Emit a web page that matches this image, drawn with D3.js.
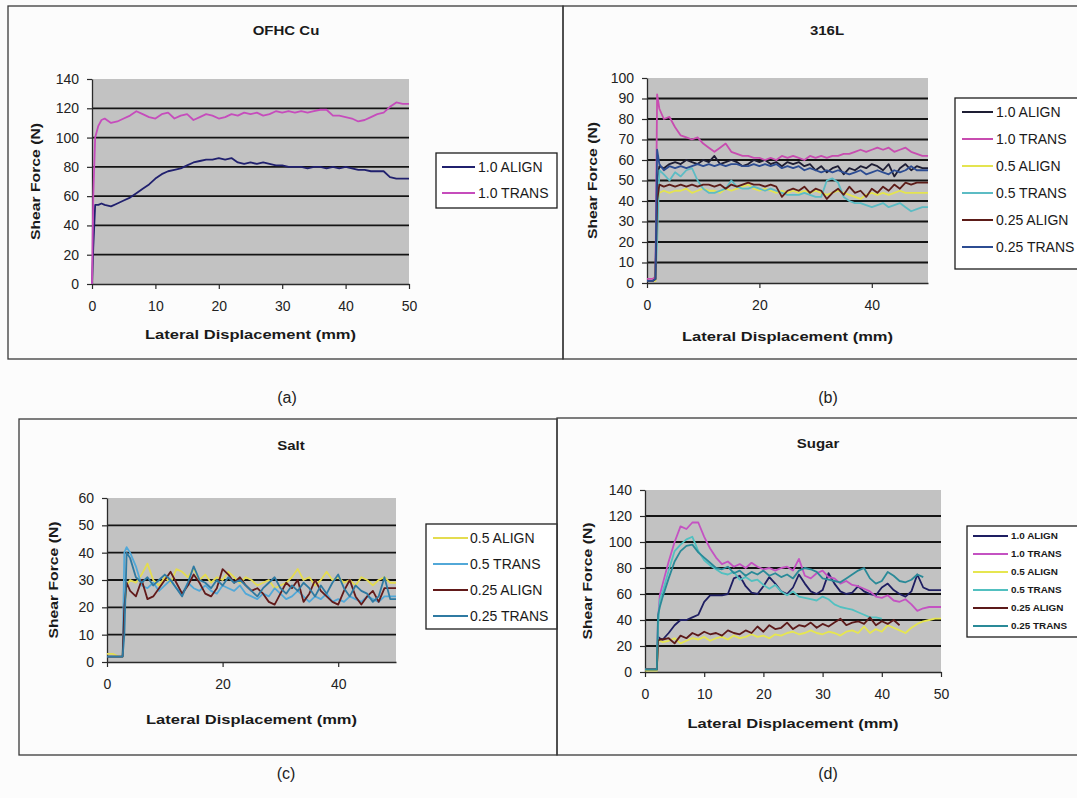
<!DOCTYPE html>
<html><head><meta charset="utf-8">
<script src="https://cdn.jsdelivr.net/npm/d3@7"></script>
<style>
body{margin:0;background:#fff;}
svg{display:block;font-family:"Liberation Sans",Arial,sans-serif;}
</style>
</head><body><svg id="c" width="1077" height="798"></svg>
<script>
// ---------- DATA ----------
const seriesNamesA = ["1.0 ALIGN","1.0 TRANS"];
const seriesNamesB = ["1.0 ALIGN","1.0 TRANS","0.5 ALIGN","0.5 TRANS","0.25 ALIGN","0.25 TRANS"];
const seriesNamesC = ["0.5 ALIGN","0.5 TRANS","0.25 ALIGN","0.25 TRANS"];
const seriesNamesD = ["1.0 ALIGN","1.0 TRANS","0.5 ALIGN","0.5 TRANS","0.25 ALIGN","0.25 TRANS"];
const panelTitles = ["OFHC Cu","316L","Salt","Sugar"];
const panelLabels = ["(a)","(b)","(c)","(d)"];
const xAxisTitle = "Lateral Displacement (mm)";
const yAxisTitle = "Shear Force (N)";

const ticksA_x = [0,10,20,30,40,50];   const ticksA_y = [0,20,40,60,80,100,120,140];
const ticksB_x = [0,20,40];            const ticksB_y = [0,10,20,30,40,50,60,70,80,90,100];
const ticksC_x = [0,20,40];            const ticksC_y = [0,10,20,30,40,50,60];
const ticksD_x = [0,10,20,30,40,50];   const ticksD_y = [0,20,40,60,80,100,120,140];

// (a) OFHC Cu
const aX = [0,0.2,0.5,1,1.5,2,3,4,5,6,7,8,9,10,11,12,13,14,15,16,17,18,19,20,21,22,23,24,25,26,27,28,29,30,31,32,33,34,35,36,37,38,39,40,41,42,43,44,45,46,47,48,49,50];
const a10Align = [0,25,54,54,55,54,53,55,57,59,62,65,68,72,75,77,78,79,81,83,84,85,85,86,85,86,83,82,83,82,83,82,81,81,80,80,80,79,80,80,79,80,79,80,79,78,78,77,77,77,73,72,72,72];
const a10Trans = [0,60,100,108,112,113,110,111,113,115,118,116,114,113,116,117,113,115,116,112,114,116,115,113,114,116,115,117,116,117,115,116,118,117,118,117,118,117,118,119,119,115,115,114,113,111,112,114,116,117,121,124,123,123];

// (b) 316L
const bX = [0,1,1.5,1.8,2.2,3,4,5,6,7,8,9,10,11,12,13,14,15,16,17,18,19,20,21,22,23,24,25,26,27,28,29,30,31,32,33,34,35,36,37,38,39,40,41,42,43,44,45,46,47,48,49,50];
const b10Align = [1,1,2,50,57,56,58,59,58,60,59,58,60,59,62,58,59,60,59,57,58,60,59,60,58,59,57,59,58,59,57,58,55,57,54,56,57,53,56,55,57,56,58,57,55,58,52,56,58,55,57,56,56];
const b10Trans = [2,2,3,92,85,80,81,76,72,71,70,71,68,66,64,66,68,64,63,62,62,61,61,60,61,60,62,61,62,61,60,62,61,62,61,62,62,63,63,64,65,64,65,66,65,66,64,65,66,64,63,62,62];
const b05Align = [1,1,1,38,44,45,44,45,45,46,44,45,46,45,45,44,46,45,46,47,48,46,45,46,45,44,45,44,45,44,45,44,45,44,43,44,45,44,43,42,41,43,44,43,44,43,44,45,44,44,44,44,44];
const b05Trans = [1,1,2,20,55,53,50,54,52,55,56,50,46,44,44,45,46,50,47,46,46,47,46,45,46,45,44,43,43,43,44,43,42,42,50,51,49,42,40,39,39,38,37,38,39,37,38,39,37,35,36,37,37];
const b025Align = [1,1,2,40,48,47,48,47,48,47,48,47,48,48,47,48,46,48,47,48,49,48,48,47,48,47,42,45,46,45,47,44,46,45,41,44,46,43,47,44,45,42,46,44,47,45,48,46,49,48,49,49,49];
const b025Trans = [1,1,2,65,58,55,57,56,57,56,57,58,57,58,57,58,57,58,58,57,57,58,57,58,57,58,56,57,56,57,55,56,55,54,55,54,55,54,53,54,55,53,54,55,54,53,55,54,55,57,55,55,55];

// (c) Salt
const cX = [0,1,2,2.7,3,3.4,4,5,6,7,8,9,10,11,12,13,14,15,16,17,18,19,20,21,22,23,24,25,26,27,28,29,30,31,32,33,34,35,36,37,38,39,40,41,42,43,44,45,46,47,48,49,50];
const c05Align = [3,3,2,2,20,28,30,29,32,36,30,28,31,29,34,33,31,34,30,32,29,31,30,33,31,29,31,30,28,29,30,27,28,29,31,34,30,31,28,30,33,30,31,29,30,28,31,30,28,30,31,29,29];
const c05Trans = [2,2,2,2,40,42,40,35,28,27,29,26,28,30,27,25,29,27,26,28,26,25,28,27,26,28,25,24,23,25,24,27,25,23,24,26,24,22,24,23,25,22,23,22,24,23,22,24,23,22,24,24,24];
const c025Align = [2,2,2,2,20,29,26,24,30,23,24,27,30,33,29,25,28,32,29,25,24,27,34,32,29,31,28,26,27,25,22,21,25,29,27,30,22,25,30,26,24,22,21,26,30,24,21,24,26,22,27,27,27];
const c025Trans = [2,2,2,2,10,40,38,31,29,31,28,30,32,30,27,24,29,35,30,29,27,30,28,31,29,30,28,26,24,27,29,31,27,25,28,26,29,27,24,28,25,29,32,27,24,28,26,25,22,24,31,23,23];

// (d) Sugar
const dX = [0,1,2,2.2,2.5,3,4,5,6,7,8,9,10,11,12,13,14,15,16,17,18,19,20,21,22,23,24,25,26,27,28,29,30,31,32,33,34,35,36,37,38,39,40,41,42,43,44,45,46,47,48,49,50];
const d10Align = [2,2,2,27,26,25,30,36,40,40,42,44,54,59,59,59,60,72,74,66,61,60,66,73,68,62,60,65,75,68,62,60,63,76,68,62,60,61,66,62,60,59,65,68,63,60,58,62,75,65,63,63,63];
const d10Trans = [2,2,2,40,59,68,85,100,112,110,115,115,104,95,88,83,85,81,83,80,84,81,79,80,78,80,81,78,87,74,72,76,78,73,72,68,70,67,66,64,62,58,57,59,55,54,56,52,47,49,50,50,50];
const d05Align = [1,1,1,25,24,23,24,26,22,24,26,25,27,24,26,27,25,28,26,27,29,27,28,26,29,28,30,31,29,30,32,30,29,31,30,28,31,32,30,35,30,33,31,36,34,32,30,34,37,39,40,41,41];
const d05Trans = [2,2,2,35,55,62,78,93,98,102,104,93,86,82,79,76,75,77,71,73,70,71,67,64,67,62,59,62,58,57,56,55,58,56,52,50,49,48,46,44,42,42,41,null,null,null,null,null,null,null,null,null,null];
const d025Align = [2,2,2,24,25,25,26,22,28,26,30,28,31,29,30,28,32,30,29,32,30,35,31,36,33,34,38,33,36,35,38,34,37,35,38,41,36,38,39,37,42,36,39,37,40,36,null,null,null,null,null,null,null];
const d025Trans = [2,2,2,44,50,58,72,85,93,97,98,92,88,84,80,79,81,76,78,74,77,75,78,74,76,73,75,72,78,80,79,77,72,71,70,69,72,75,78,80,72,68,70,77,74,70,69,71,75,73,null,null,null];

// ---------- PANEL SETUP ----------
const panels = [
 { title: panelTitles[0], label: panelLabels[0], x: aX, names: seriesNamesA,
   values: [a10Align, a10Trans], colors: ["#20206e","#c64cbc"],
   xTicks: ticksA_x, yTicks: ticksA_y,
   plot: {l:92, r:409, t:79, b:284}, titlePos:[286,31], labelPos:[287,397],
   xTitleY: 335, yTitleX: 36,
   legend: {x:436, y:153, w:121, h:55, items:[167,193], l1:442, l2:475, tx:478, fs:14, bold:false, sx:1},
   frame: {x:8, y:6, w:555, h:353} },
 { title: panelTitles[1], label: panelLabels[1], x: bX, names: seriesNamesB,
   values: [b10Align, b10Trans, b05Align, b05Trans, b025Align, b025Trans],
   colors: ["#1e1e34","#c84cb0","#e4e450","#5cbcc4","#5c1c18","#2c4c92"],
   xTicks: ticksB_x, yTicks: ticksB_y,
   plot: {l:647, r:928, t:78, b:283}, titlePos:[827,31], labelPos:[828,397],
   xTitleY: 337, yTitleX: 593,
   legend: {x:955, y:98, w:140, h:171, items:[112,139,166,193,220,247], l1:962, l2:993, tx:996, fs:14, bold:false, sx:1},
   frame: {x:563, y:6, w:520, h:353} },
 { title: panelTitles[2], label: panelLabels[2], x: cX, names: seriesNamesC,
   values: [c05Align, c05Trans, c025Align, c025Trans],
   colors: ["#e4dc50","#52a8d8","#621a1a","#2f7aa2"],
   xTicks: ticksC_x, yTicks: ticksC_y,
   plot: {l:107, r:396, t:498, b:662}, titlePos:[291,446], labelPos:[286,773],
   xTitleY: 720, yTitleX: 54,
   legend: {x:426, y:524, w:131, h:105, items:[538,564,590,616], l1:433, l2:468, tx:470, fs:14, bold:false, sx:1},
   frame: {x:19, y:419, w:538, h:336} },
 { title: panelTitles[3], label: panelLabels[3], x: dX, names: seriesNamesD,
   values: [d10Align, d10Trans, d05Align, d05Trans, d025Align, d025Trans],
   colors: ["#1e1e62","#c452c2","#e6e650","#52c0c0","#5c1a1a","#2a8a98"],
   xTicks: ticksD_x, yTicks: ticksD_y,
   plot: {l:645, r:941, t:490, b:672}, titlePos:[818,444], labelPos:[828,773],
   xTitleY: 724, yTitleX: 588,
   legend: {x:967, y:526, w:120, h:111, items:[536,554,572,590,608,626], l1:973, l2:1008, tx:1011, fs:9, bold:true, sx:1.1},
   frame: {x:557, y:418, w:530, h:337} }
];

const svg = d3.select("#c");
svg.append("rect").attr("width",1077).attr("height",798).attr("fill","#fcfcfc");

function stretchText(g, x, y, str, size, weight, targetOrSx, isTarget, rotate) {
  const t = g.append("text")
    .attr("x", x).attr("y", y)
    .attr("text-anchor","middle").attr("dominant-baseline","central")
    .attr("font-size", size).attr("font-weight", weight)
    .attr("fill","#1a1a1a").text(str);
  if (rotate) t.attr("transform", `rotate(-90,${x},${y})`);
  const w = t.node().getComputedTextLength();
  const target = isTarget ? targetOrSx : w * targetOrSx;
  t.attr("textLength", target).attr("lengthAdjust","spacingAndGlyphs");
  return t;
}

panels.forEach(p => {
  const g = svg.append("g");
  g.append("rect").attr("x",p.frame.x).attr("y",p.frame.y).attr("width",p.frame.w).attr("height",p.frame.h)
    .attr("fill","none").attr("stroke","#3a3a3a").attr("stroke-width",1.3);

  const x = d3.scaleLinear().domain([0,50]).range([p.plot.l, p.plot.r]);
  const yMax = p.yTicks[p.yTicks.length-1];
  const y = d3.scaleLinear().domain([0,yMax]).range([p.plot.b, p.plot.t]);

  g.append("rect").attr("x",p.plot.l).attr("y",p.plot.t)
    .attr("width",p.plot.r-p.plot.l).attr("height",p.plot.b-p.plot.t).attr("fill","#c2c2c2");

  g.append("g").selectAll("line").data(p.yTicks.filter(v => v>0 && v<yMax)).join("line")
    .attr("x1",p.plot.l).attr("x2",p.plot.r).attr("y1",d=>y(d)).attr("y2",d=>y(d))
    .attr("stroke","#141414").attr("stroke-width",1.8);

  const ya = g.append("g").attr("transform",`translate(${p.plot.l},0)`)
    .call(d3.axisLeft(y).tickValues(p.yTicks).tickSize(5).tickSizeOuter(0).tickPadding(8));
  const xa = g.append("g").attr("transform",`translate(0,${p.plot.b})`)
    .call(d3.axisBottom(x).tickValues(p.xTicks).tickSize(5).tickSizeOuter(0).tickPadding(12));
  [ya, xa].forEach(a => {
    a.select(".domain").attr("stroke","#2a2a2a").attr("stroke-width",1.3);
    a.selectAll(".tick line").attr("stroke","#2a2a2a").attr("stroke-width",1.2);
    a.selectAll(".tick text").attr("font-size",14).attr("fill","#222")
      .attr("font-family",'"Liberation Sans",Arial,sans-serif');
  });

  const line = d3.line().defined(d => d[1] !== null).x(d => x(d[0])).y(d => y(d[1]));
  p.values.forEach((vals, i) => {
    const pts = p.x.map((xv, k) => [xv, vals[k]]);
    g.append("path").datum(pts).attr("d", line).attr("fill","none")
      .attr("stroke", p.colors[i]).attr("stroke-width",1.8).attr("stroke-linejoin","round");
  });

  stretchText(g, p.titlePos[0], p.titlePos[1], p.title, 12, "bold", 1.25, false, false);
  stretchText(g, (p.plot.l+p.plot.r)/2, p.xTitleY, xAxisTitle, 12.5, "bold", 211, true, false);
  stretchText(g, p.yTitleX, (p.plot.t+p.plot.b)/2, yAxisTitle, 12.5, "bold", 117, true, true);

  const L = p.legend;
  g.append("rect").attr("x",L.x).attr("y",L.y).attr("width",L.w).attr("height",L.h)
    .attr("fill","#ffffff").attr("stroke","#1e1e1e").attr("stroke-width",1.3);
  p.names.forEach((n, i) => {
    g.append("line").attr("x1",L.l1).attr("x2",L.l2).attr("y1",L.items[i]).attr("y2",L.items[i])
      .attr("stroke",p.colors[i]).attr("stroke-width", 2);
    const t = g.append("text").attr("x",L.tx).attr("y",L.items[i]).attr("dominant-baseline","central")
      .attr("font-size",L.fs).attr("font-weight", L.bold ? "bold" : "normal").attr("fill","#1a1a1a").text(n);
    if (L.sx !== 1) {
      const w = t.node().getComputedTextLength();
      t.attr("textLength", w*L.sx).attr("lengthAdjust","spacingAndGlyphs");
    }
  });
  svg.append("text").attr("x",p.labelPos[0]).attr("y",p.labelPos[1]).attr("text-anchor","middle")
    .attr("dominant-baseline","central").attr("font-size",16).attr("fill","#222").text(p.label);
});
</script>
</body></html>
